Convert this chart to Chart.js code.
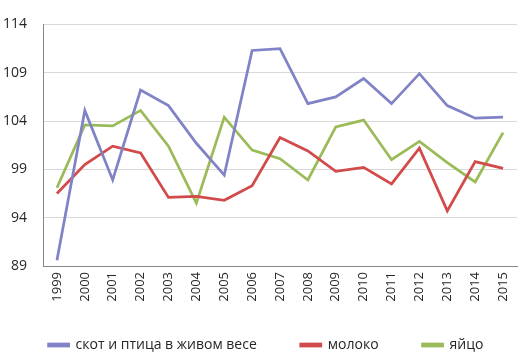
<!DOCTYPE html>
<html>
<head>
<meta charset="utf-8">
<script src="https://cdn.jsdelivr.net/npm/chart.js@4"></script>
<style>
  html, body { margin: 0; padding: 0; background: #fff; }
  #wrap { width: 532px; height: 356px; }
</style>
</head>
<body>
<div id="wrap"><canvas id="chart"></canvas></div>
<script>
// Data
const years = ['1999', '2000', '2001', '2002', '2003', '2004', '2005', '2006', '2007',
               '2008', '2009', '2010', '2011', '2012', '2013', '2014', '2015'];
const livestock = [89.6, 105.1, 97.9, 107.2, 105.6, 101.7, 98.4, 111.3, 111.5,
                   105.8, 106.5, 108.4, 105.8, 108.9, 105.6, 104.3, 104.4];
const milk = [96.5, 99.5, 101.4, 100.7, 96.1, 96.2, 95.8, 97.3, 102.3,
              100.9, 98.8, 99.2, 97.5, 101.2, 94.7, 99.8, 99.1];
const eggs = [97.1, 103.6, 103.5, 105.1, 101.4, 95.5, 104.4, 101.0, 100.1,
              97.9, 103.4, 104.1, 100.0, 101.9, 99.7, 97.7, 102.8];
const yTicks = [89, 94, 99, 104, 109, 114];

Chart.defaults.font.family = '"Open Sans", "DejaVu Sans", sans-serif';
Chart.defaults.color = '#262626';

const legendPad = 44;

function series(label, data, color) {
    return {
        label: label,
        data: data,
        borderColor: color,
        backgroundColor: color,
        borderWidth: 2.75,
        pointRadius: 0,
        tension: 0,
        fill: false
    };
}

// fixed legend box, then nudge its row up to where the reference has it
const legendPlace = {
    id: 'legendPlace',
    beforeInit(chart) {
        const fit = chart.legend.fit;
        chart.legend.fit = function() {
            fit.call(this);
            this.height = 45;
        };
    },
    afterLayout(chart) {
        const lg = chart.legend;
        lg.top = 343 - legendPad - 5;
        lg.bottom = chart.height;
    }
};

const ctx = document.getElementById('chart').getContext('2d');
new Chart(ctx, {
    type: 'line',
    data: {
        labels: years,
        datasets: [
            series('скот и птица в живом весе', livestock, '#8083c6'),
            series('молоко', milk, '#d24a4a'),
            series('яйцо', eggs, '#9bbb59')
        ]
    },
    options: {
        responsive: true,
        maintainAspectRatio: false,
        animation: false,
        layout: {
            padding: { left: 0, right: 0, top: 23, bottom: 0 }
        },
        scales: {
            x: {
                offset: true,
                grid: { display: false, drawTicks: false },
                border: { color: '#868686', width: 1 },
                ticks: {
                    maxRotation: 90,
                    minRotation: 90,
                    padding: 6,
                    font: { size: 13 }
                },
                afterFit: function(scale) {
                    scale.height = 45;
                    scale.paddingRight = 15;
                }
            },
            y: {
                min: 89,
                max: 114,
                afterBuildTicks: function(scale) {
                    scale.ticks = yTicks.map(v => ({ value: v }));
                },
                grid: { color: '#d9d9d9', drawTicks: false },
                border: { color: '#868686', width: 1 },
                ticks: {
                    padding: 16,
                    font: { size: 14 }
                },
                afterFit: function(scale) { scale.width = 43; }
            }
        },
        plugins: {
            legend: {
                position: 'bottom',
                labels: {
                    boxWidth: 20,
                    boxHeight: 2,
                    padding: legendPad,
                    font: { size: 14 }
                }
            },
            tooltip: { enabled: false }
        }
    },
    plugins: [legendPlace]
});
</script>
</body>
</html>
